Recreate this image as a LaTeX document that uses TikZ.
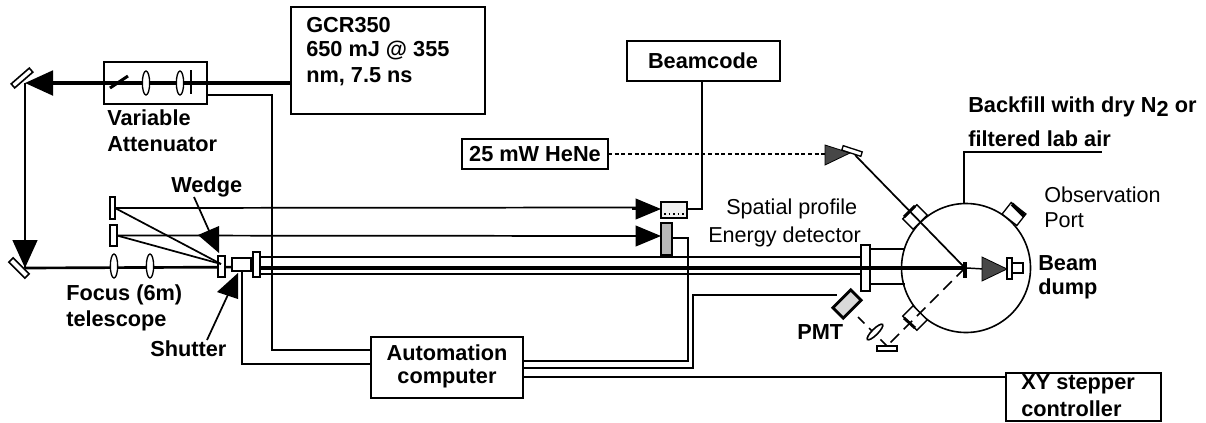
\documentclass[tikz,border=0pt]{standalone}
\usepackage{fontspec}
\setmainfont{Liberation Sans}
\usetikzlibrary{arrows.meta,shapes.geometric,calc}
\newcommand{\pxbox}[6][]{%
  \pgfmathsetmacro{\pxw}{(#5-#3)*0.75}%
  \pgfmathsetmacro{\pxh}{(#6-#4)*0.75}%
  \pgfmathsetmacro{\pxcx}{(#3+#5)/2}%
  \pgfmathsetmacro{\pxcy}{(#4+#6)/2}%
  \node[boxbase,minimum width=\pxw pt,minimum height=\pxh pt,#1] (#2) at (\pxcx,\pxcy) {};}
\tikzset{
  x=0.75pt,y=-0.75pt,
  boxbase/.style={draw,line width=1.4pt,inner sep=0pt,outer sep=0pt,rectangle},
  optic/.style={draw,line width=1pt,fill=white,inner sep=0pt,outer sep=0pt,rectangle},
  lens/.style={draw,line width=1pt,fill=white,ellipse,inner sep=0pt,outer sep=0pt,minimum width=5.5pt,minimum height=18pt},
  label/.style={font=\fontsize{16.3}{18}\selectfont\bfseries,anchor=west,inner sep=0pt},
  thinlabel/.style={font=\fontsize{16.2}{18}\selectfont,anchor=west,inner sep=0pt},
  beam/.style={line width=2.3pt},
  ray/.style={line width=1.3pt},
  wire/.style={line width=1.4pt},
  bigtip/.style={-{Triangle[length=21pt,width=18.5pt]}},
  smalltip/.style={-{Triangle[length=19pt,width=15.5pt]}},
  dottedfill/.style={fill=black!72,draw=black,line width=0.6pt},
}
\begin{document}
\begin{tikzpicture}
\useasboundingbox (0,0) rectangle (1206,422);

% coordinates
\coordinate (m1) at (25,83);
\coordinate (m2) at (25,268);
\coordinate (attw) at (207,95);
\coordinate (autoA) at (371,350);
\coordinate (autoB) at (371,364);
\coordinate (autoC) at (523,361);
\coordinate (autoD) at (523,368);
\coordinate (autoE) at (523,377);
\coordinate (xyw) at (1006,377);
\coordinate (tube1a) at (260,257);
\coordinate (tube1b) at (861,257);
\coordinate (tube2a) at (260,274);
\coordinate (tube2b) at (861,274);
\coordinate (target) at (965,268);
\coordinate (wedgeP) at (221,264);
\coordinate (lensfold) at (887,346);
\coordinate (fill1) at (964,203);
\coordinate (fill2) at (1102,152);
\coordinate (wedgeS) at (194,197);
\coordinate (wedgeT) at (219,253);
\coordinate (wedgeU) at (198,235);
\coordinate (wedgeV) at (219,226);
\coordinate (shutS) at (207,340);
\coordinate (shutT) at (238,273);
\coordinate (shutU) at (217,292);
\coordinate (shutV) at (238,299);

% boxes
\pxbox{gcr}{291}{7}{485}{114}
\pxbox{att}{104}{62}{207}{104}
\pxbox{beamcode}{627}{41}{780}{81}
\pxbox{hene}{462}{139}{608}{169}
\pxbox{auto}{371}{337}{523}{398}
\pxbox{xy}{1006}{373}{1161}{421}

% main beam and wires (under optics)
\draw[beam,line width=2.8pt] (gcr.west |- m1) -- (att.east |- m1);
\draw[beam] (att.east |- m1) -- (att.west |- m1);
\draw[beam,bigtip] (att.west |- m1) -- (m1);
\draw[line width=2pt] (m1) -- (m2);
\draw[line width=2pt,bigtip] (25,220) -- (m2);
\draw[line width=2pt] (m2) -- (260,267);
\draw[beam,line width=2.8pt] (260,268) -- (target);
\draw[ray] (tube1a) -- (tube1b);
\draw[ray] (tube2a) -- (tube2b);

\draw[wire] (attw) -| (272,350) -- (autoA);
\draw[wire] (242,271) |- (autoB);
\draw[wire] (702,81) |- (687,209);
\draw[wire] (672,238) -| (688,361) -- (autoC);
\draw[wire] (autoD) -| (693,295) -- (837,295);
\draw[wire] (autoE) -- (xyw);
\draw[wire] (fill1) |- (fill2);

% top-left optics
\node[optic,line width=1.2pt,rotate=41,minimum width=18pt,minimum height=4pt] (mirA) at (22,78) {};
\node[optic,line width=1.2pt,rotate=-45,minimum width=17pt,minimum height=4.5pt] (mirB) at (19,268) {};
\draw[line width=2.2pt] (110,88) -- (128,76);
\node[lens] (la1) at (146,83) {};
\node[lens] (la2) at (180,83) {};
\draw[line width=1.1pt] (191,70) -- (191,94);
\node[lens] (lb1) at (114,266) {};
\node[lens] (lb2) at (150,266) {};

% pick-off optics
\pxbox[optic]{pick1}{110}{197}{115}{219}
\pxbox[optic]{pick2}{110}{225}{117}{246}
\pxbox[optic]{wedge}{218}{256}{225}{277}
\pxbox[optic]{shutter}{232}{258}{251}{271}
\pxbox[optic]{window}{253}{252}{260}{277}
\draw[ray] (pick1.east) -- (640,207.5);
\draw[ray] (pick2.east) -- (640,236);
\draw[ray] (pick1.east) -- (wedgeP);
\draw[ray] (pick2.east) -- (wedgeP);
\draw[ray,smalltip] (632,209) -- (661,209);
\draw[ray,smalltip] (632,236) -- (661,236);

% detectors
\pxbox[draw,fill=black!6,line width=1.7pt]{spatial}{661}{202}{687}{218}
\draw[line width=1.4pt,dotted] (spatial.south west) ++(3,-4) -- ++(20,0);
\pxbox[draw,fill=black!28,line width=2.2pt]{energy}{661}{223}{672}{255}

% label arrows
\draw[ray] (wedgeS) -- ($(wedgeS)!0.7!(wedgeT)$);
\fill (wedgeT) -- (wedgeU) -- (wedgeV) -- cycle;
\draw[ray] (shutS) -- ($(shutS)!0.7!(shutT)$);
\fill (shutT) -- (shutU) -- (shutV) -- cycle;

% chamber
\draw[line width=1.2pt] (870,249) -- (905,249) (870,284) -- (905,284);
\node[draw,circle,line width=1.2pt,minimum size=96.75pt,inner sep=0pt,outer sep=0pt] (chamber) at (966,268) {};
\pxbox[optic,line width=1.2pt]{flange}{861}{245}{870}{291}
\draw[beam,line width=2.8pt] (860,268) -- (target);
\draw[ray] (tube1a) -- (tube1b);

% ports
\node[optic,rotate=45,minimum width=15pt,minimum height=11pt] (portA) at (915,217) {};
\draw[line width=2.2pt] (904,217) -- (915,206);
\node[optic,rotate=-38,minimum width=14pt,minimum height=11pt] (portB) at (1014,214) {};
\draw[line width=2.8pt] (1012,204) -- (1024,216);
\node[optic,rotate=-45,minimum width=15pt,minimum height=11pt] (portC) at (915,318) {};
\draw[line width=2.2pt] (904,318) -- (915,328);

% HeNe path
\draw[line width=1.1pt,densely dashed] (hene.east |- 0,154) -- (830,154);
\path[dottedfill] (825,145) -- (850,153) -- (825,165) -- cycle;
\node[optic,rotate=-18,minimum width=15pt,minimum height=3.5pt] (hemir) at (852,151) {};
\draw[ray] (855,155) -- (target);
\draw[line width=1.1pt,dash pattern=on 9pt off 5pt] (target) -- (lensfold);
\draw[line width=1.1pt,dash pattern=on 7pt off 5pt] (lensfold) -- (858,317);

% target and dump
\draw[line width=2.8pt] (965,262) -- (965,278);
\draw[line width=1.1pt] (967,268) -- (984,269);
\path[dottedfill] (982,257) -- (1007,269) -- (982,281) -- cycle;
\pxbox[optic]{dumpA}{1007}{258}{1012}{279}
\pxbox[optic]{dumpB}{1012}{263}{1023}{273}

% PMT branch
\node[draw,line width=2.2pt,fill=black!15,rotate=45,minimum width=19pt,minimum height=11pt,inner sep=0pt] (pmt) at (847,304) {};
\node[lens,rotate=-45,minimum width=4.5pt,minimum height=16pt,line width=1.2pt] (pmtlens) at (875,332) {};
\pxbox[optic]{fold}{877}{346}{897}{351}

% labels
\node[label] (t1) at (306,25) {GCR350};
\node[label] (t2) at (306,51) {650 mJ @ 355};
\node[label] (t3) at (306,77) {nm, 7.5 ns};
\node[label,anchor=center] (t4) at (703,61) {Beamcode};
\node[label,anchor=center] (t5) at (535,154) {25 mW HeNe};
\node[label] (t6) at (107,118) {Variable};
\node[label] (t7) at (107,144) {Attenuator};
\node[label] (t8) at (171,187) {Wedge};
\node[label] (t9) at (66,295) {Focus (6m)};
\node[label] (t10) at (66,321) {telescope};
\node[label] (t11) at (150,349) {Shutter};
\node[label,anchor=center] (t12) at (447,353) {Automation};
\node[label,anchor=center] (t13) at (447,379) {computer};
\node[label] (t14) at (1021,384) {XY stepper};
\node[label] (t15) at (1021,409) {controller};
\node[label] (t16) at (797,332) {PMT};
\node[label] (t17) at (1038,263) {Beam};
\node[label] (t18) at (1038,289) {dump};
\node[label] (t19) at (968,107) {Backfill with dry N\raisebox{-3pt}{2} or};
\node[label] (t20) at (968,139) {filtered lab air};
\node[thinlabel] (t21) at (726,209) {Spatial profile};
\node[thinlabel] (t22) at (708,237) {Energy detector};
\node[thinlabel] (t23) at (1044,195) {Observation};
\node[thinlabel] (t24) at (1044,220) {Port};
\end{tikzpicture}
\end{document}
